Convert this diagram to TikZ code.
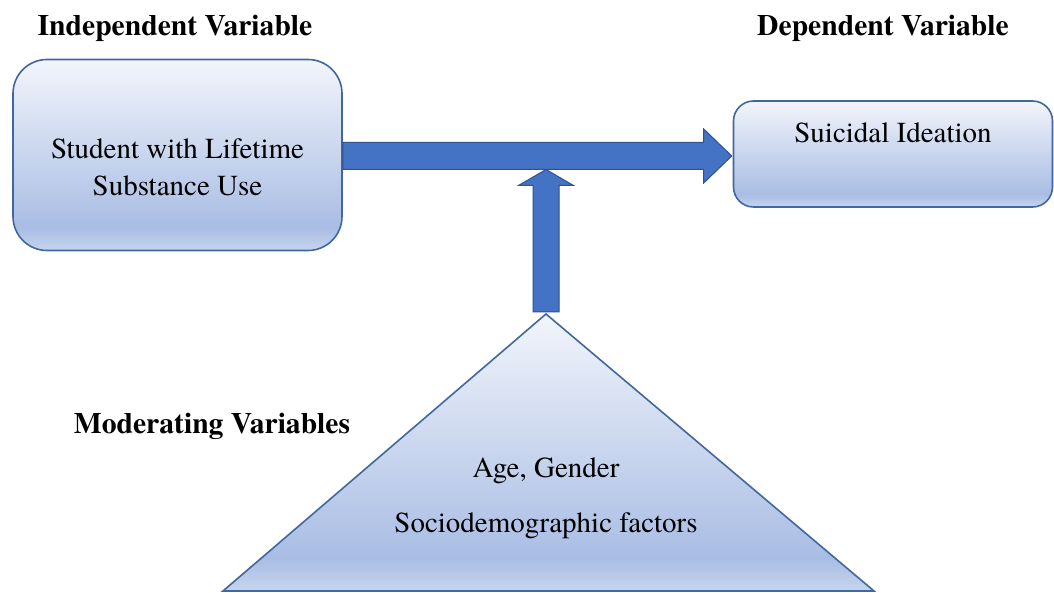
\documentclass[tikz,border=0pt]{standalone}
\usepackage{fontspec}
\setmainfont{texgyretermes}[Extension=.otf, UprightFont=*-regular, BoldFont=*-bold]
\usetikzlibrary{calc}
\definecolor{edgeblue}{HTML}{41689E}
\definecolor{arrfill}{HTML}{4472C4}
\definecolor{arredge}{HTML}{2F528F}
\definecolor{gbot}{RGB}{198,212,237}
\definecolor{gmid}{RGB}{169,189,228}
\definecolor{gtop}{RGB}{242,245,251}
\pgfdeclareverticalshading{officegrad}{100bp}{color(0bp)=(gbot); color(25bp)=(gbot); color(31bp)=(gmid); color(75bp)=(gtop); color(100bp)=(gtop)}
\tikzset{
  varbox/.style={draw=edgeblue, line width=1.6pt, shading=officegrad, rectangle},
  arr/.style={fill=arrfill, draw=arredge, line width=1pt, line join=miter},
  txt/.style={font=\fontsize{29}{37}\selectfont, inner sep=0pt, anchor=base},
  head/.style={font=\fontsize{29.6}{37}\selectfont\bfseries, inner sep=0pt, anchor=base}
}
\begin{document}
\begin{tikzpicture}[x=1pt,y=-1pt]
\useasboundingbox (0,0) rectangle (1054,593);
\fill[white] (0,0) rectangle (1054,593);
% boxes
\node[varbox, rounded corners=34pt, minimum width=329pt, minimum height=191pt] (ind) at (177.5,155) {};
\node[varbox, rounded corners=20pt, minimum width=319pt, minimum height=106pt] (dep) at (893,154) {};
% triangle
\coordinate (apex) at (546,314);
\coordinate (bl) at (223,591);
\coordinate (br) at (874,591);
\shade[shading=officegrad, draw=edgeblue, line width=1.6pt, line join=miter] (apex) -- (br) -- (bl) -- cycle;
% headings
\node[head] (hind) at (175,36) {Independent Variable};
\node[head] (hdep) at (883,36) {Dependent Variable};
\node[head] (hmod) at (212,433) {Moderating Variables};
% texts
\node[txt, anchor=center, align=center] (tind) at (ind.center |- 0,167) {Student with Lifetime\\Substance Use};
\node[txt] (tdep) at (dep.center |- 0,143) {Suicidal Ideation};
\node[txt] (tage) at (apex |- 0,477) {Age, Gender};
\node[txt] (tsoc) at (apex |- 0,532) {Sociodemographic factors};
% horizontal arrow
\coordinate (ht) at ($(dep.west)+(-1,2)$);
\coordinate (hs) at (ind.east |- ht);
\draw[arr] ($(hs)+(0,-13.5)$) -- ($(ht)+(-28,-13.5)$) -- ($(ht)+(-28,-27)$) -- (ht)
  -- ($(ht)+(-28,27)$) -- ($(ht)+(-28,13.5)$) -- ($(hs)+(0,13.5)$) -- cycle;
% vertical arrow
\coordinate (vt) at ($(apex |- hs)+(0,13.5)$);
\draw[arr] ($(apex)+(-13,-2)$) -- ($(vt)+(-13,16)$) -- ($(vt)+(-27.5,16)$) -- (vt)
  -- ($(vt)+(27.5,16)$) -- ($(vt)+(13,16)$) -- ($(apex)+(13,-2)$) -- cycle;
\end{tikzpicture}
\end{document}
